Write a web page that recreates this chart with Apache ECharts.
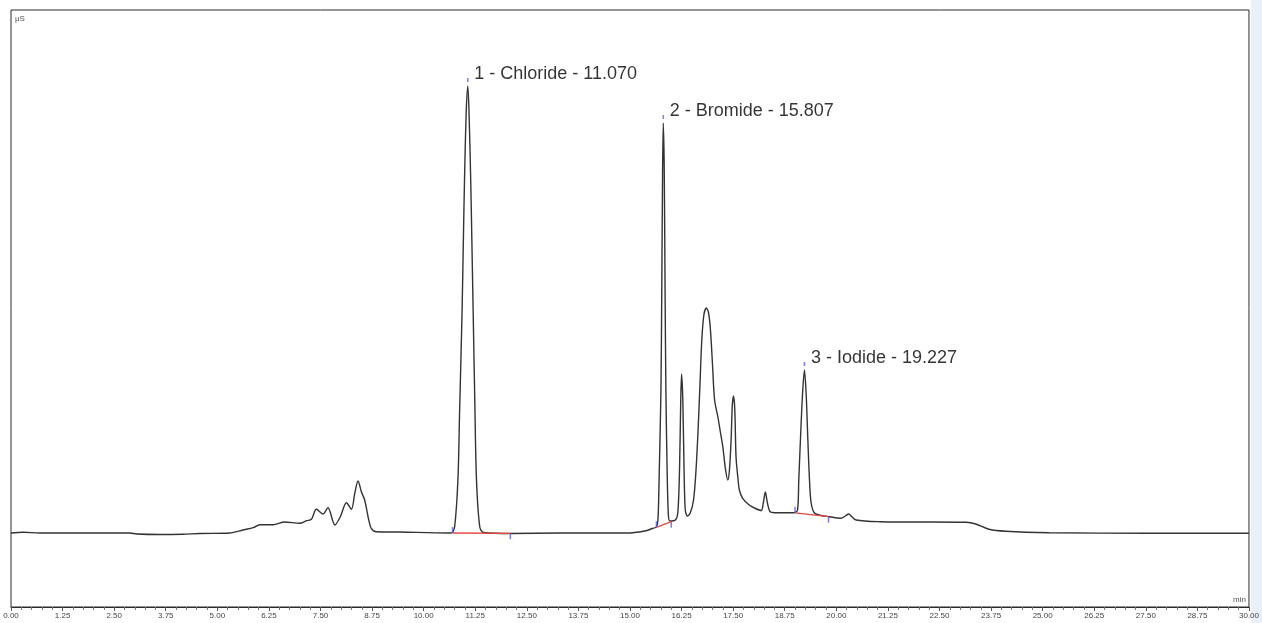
<!DOCTYPE html>
<html>
<head>
<meta charset="utf-8">
<title>Chromatogram</title>
<script src="https://cdn.jsdelivr.net/npm/echarts@6/dist/echarts.min.js"></script>
<style>
  html, body { margin: 0; padding: 0; background: #fff; }
  #chart { width: 1262px; height: 623px; }
</style>
</head>
<body>
<div id="chart"></div>
<script>
// retention time (min) and detector signal (uS)
const retentionTime = [
  0.00, 0.29, 0.70, 1.19, 2.88, 3.05, 3.61, 4.16, 4.58, 5.30,
  5.62, 5.87, 6.03, 6.35, 6.63, 7.00, 7.16, 7.28, 7.40, 7.56,
  7.68, 7.85, 7.98, 8.13, 8.25, 8.33, 8.41, 8.49, 8.57, 8.67,
  8.73, 8.85, 9.42, 10.60, 10.68, 10.75, 10.83, 10.87, 10.93, 10.96,
  10.99, 11.03, 11.07, 11.10, 11.14, 11.17, 11.20, 11.24, 11.28, 11.36,
  11.45, 12.11, 13.29, 14.26, 14.75, 15.06, 15.39, 15.54, 15.64, 15.68,
  15.71, 15.75, 15.77, 15.79, 15.807, 15.83, 15.85, 15.87, 15.90, 15.93,
  15.97, 16.10, 16.16, 16.20, 16.23, 16.25, 16.28, 16.31, 16.34, 16.39,
  16.46, 16.54, 16.60, 16.65, 16.70, 16.74, 16.79, 16.85, 16.90, 16.95,
  17.00, 17.05, 17.13, 17.19, 17.25, 17.31, 17.37, 17.41, 17.45, 17.48,
  17.51, 17.54, 17.57, 17.62, 17.65, 17.73, 17.89, 18.04, 18.18, 18.23,
  18.28, 18.33, 18.39, 18.50, 18.98, 19.06, 19.09, 19.13, 19.18, 19.227,
  19.27, 19.31, 19.35, 19.39, 19.47, 19.64, 19.83, 20.11, 20.22, 20.30,
  20.37, 20.48, 21.04, 21.84, 23.14, 23.38, 23.70, 24.11, 25.16, 27.58,
  30.00
]
const signal = [
  0.00, 0.07, 0.00, 0.00, 0.00, -0.10, -0.15, -0.12, -0.05, 0.00,
  0.30, 0.53, 0.83, 0.83, 1.10, 0.97, 1.23, 1.37, 2.37, 1.90,
  2.53, 0.80, 1.63, 3.03, 2.37, 3.97, 5.20, 4.13, 3.30, 1.30,
  0.47, 0.13, 0.10, 0.00, 0.02, 0.60, 5.30, 12.00, 22.00, 28.80,
  35.30, 42.00, 44.70, 42.00, 35.30, 28.80, 22.00, 13.00, 5.30, 0.60,
  0.05, -0.05, 0.00, 0.00, 0.00, 0.03, 0.23, 0.45, 0.60, 1.50,
  6.30, 14.30, 24.30, 36.30, 41.00, 36.30, 24.30, 14.30, 6.30, 1.80,
  1.20, 1.30, 2.10, 6.30, 13.30, 15.90, 13.30, 6.30, 2.30, 1.70,
  2.00, 3.30, 6.30, 10.30, 15.30, 19.30, 21.80, 22.50, 22.10, 20.30,
  16.80, 13.30, 11.60, 10.10, 8.60, 6.50, 5.30, 6.30, 9.30, 12.80,
  13.70, 12.30, 7.60, 5.30, 4.30, 3.47, 2.80, 2.45, 2.25, 3.00,
  4.10, 3.00, 2.15, 2.03, 2.03, 2.30, 5.30, 9.30, 13.80, 16.30,
  13.80, 9.30, 5.30, 3.00, 2.00, 1.75, 1.63, 1.47, 1.70, 1.90,
  1.65, 1.30, 1.13, 1.10, 1.07, 0.90, 0.37, 0.17, 0.03, -0.03,
  -0.03
]

// identified peaks
const peakNames = ['Chloride', 'Bromide', 'Iodide']
const peakTimes = [11.070, 15.807, 19.227]
const peakHeights = [44.7, 41.0, 16.3]

// integration baselines (start / end of each peak)
const peakStartTime = [10.70, 15.64, 19.00]
const peakStartSignal = [0.00, 0.57, 2.02]
const peakEndTime = [12.10, 16.00, 19.81]
const peakEndSignal = [-0.03, 1.13, 1.63]

const font = '"Liberation Sans", Arial, sans-serif'

let chart = echarts.init(document.getElementById('chart'))

let trace = retentionTime.map((t, i) => [t, signal[i]])
let apexes = peakTimes.map((t, i) => [t, peakHeights[i]])
let starts = peakStartTime.map((t, i) => [t, peakStartSignal[i]])
let ends = peakEndTime.map((t, i) => [t, peakEndSignal[i]])

let baselineSeries = peakNames.map((name, i) => ({
  name: name + ' baseline',
  type: 'line',
  symbol: 'none',
  silent: true,
  z: 3,
  lineStyle: { color: '#e8463f', width: 1.3 },
  data: [starts[i], ends[i]]
}))

let option = {
  animation: false,
  backgroundColor: '#fff',
  grid: {
    left: 11,
    right: 12,
    top: 10,
    bottom: 16,
    show: true,
    borderColor: '#2b2b2b',
    borderWidth: 1,
    backgroundColor: '#fff'
  },
  xAxis: {
    type: 'value',
    min: 0,
    max: 30,
    interval: 1.25,
    axisLine: { show: true, onZero: false, lineStyle: { color: '#2b2b2b', width: 1 } },
    axisTick: { show: true, length: 4, lineStyle: { color: '#555' } },
    minorTick: { show: true, splitNumber: 5, length: 3, lineStyle: { color: '#777' } },
    splitLine: { show: false },
    axisLabel: {
      margin: 5,
      fontSize: 8,
      fontFamily: font,
      color: '#444',
      formatter: v => v.toFixed(2)
    }
  },
  yAxis: {
    type: 'value',
    min: -7.4,
    max: 52.3,
    show: false
  },
  series: [
    {
      name: 'Conductivity',
      type: 'line',
      symbol: 'none',
      smooth: 0.3,
      z: 2,
      lineStyle: { color: '#333', width: 1.4 },
      data: trace
    },
    ...baselineSeries,
    {
      name: 'start marks',
      type: 'scatter',
      symbol: 'rect',
      symbolSize: [1.5, 6],
      symbolOffset: [0, -3],
      z: 4,
      itemStyle: { color: '#5b5bef' },
      data: starts
    },
    {
      name: 'end marks',
      type: 'scatter',
      symbol: 'rect',
      symbolSize: [1.5, 6],
      symbolOffset: [0, 3],
      z: 4,
      itemStyle: { color: '#5b5bef' },
      data: ends
    },
    {
      name: 'apex marks',
      type: 'scatter',
      symbol: 'rect',
      symbolSize: [1.5, 4],
      symbolOffset: [0, -6],
      z: 4,
      itemStyle: { color: '#5b5bef' },
      data: apexes
    },
    {
      name: 'peak labels',
      type: 'scatter',
      symbol: 'circle',
      symbolSize: 1,
      z: 5,
      itemStyle: { color: 'transparent' },
      label: {
        show: true,
        position: 'right',
        distance: 0,
        offset: [6, -12],
        fontFamily: font,
        fontSize: 18,
        color: '#000',
        formatter: p => (p.dataIndex + 1) + ' - ' + peakNames[p.dataIndex] + ' - ' + peakTimes[p.dataIndex].toFixed(3)
      },
      data: apexes
    }
  ],
  graphic: [
    {
      type: 'rect',
      left: 1251,
      top: 0,
      shape: { width: 11, height: 623 },
      style: { fill: '#e9f0fa' },
      silent: true
    },
    {
      type: 'text',
      left: 15,
      top: 15,
      style: { text: 'μS', fontSize: 8, fontFamily: font, fill: '#555' }
    },
    {
      type: 'text',
      left: 1233,
      top: 596,
      style: { text: 'min', fontSize: 8, fontFamily: font, fill: '#555' }
    }
  ]
}

chart.setOption(option)
</script>
</body>
</html>
